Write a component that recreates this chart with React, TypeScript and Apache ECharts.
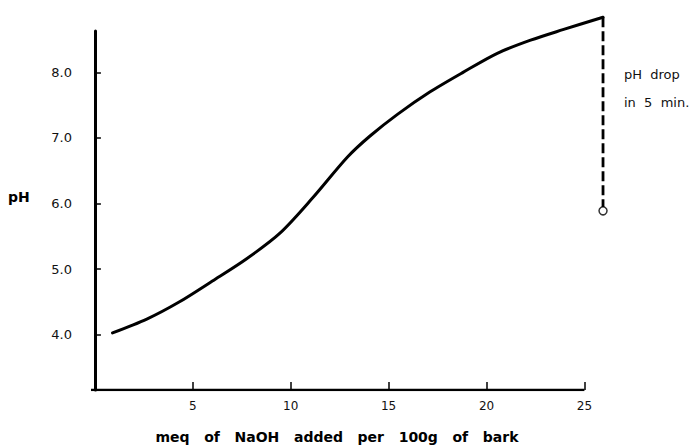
import React, { useEffect, useRef } from "react";
import * as echarts from "echarts";

const curveX = [0.9, 2.65, 4.3, 6.0, 7.75, 9.45, 11.1, 12.9, 14.05, 15.45, 17.1, 18.8, 20.55, 22.25, 23.9, 25.95];
const curvePH = [4.03, 4.24, 4.5, 4.82, 5.16, 5.55, 6.08, 6.71, 7.03, 7.36, 7.7, 8.0, 8.29, 8.49, 8.65, 8.84];
const dropX = [25.95, 25.95];
const dropPH = [8.84, 5.95];
const dropEnd = [25.95, 5.89];
const xTicks = [5, 10, 15, 20, 25];
const yTicks = [4, 5, 6, 7, 8];
const xRange = [-0.2, 25];
const yMin = 3.16;
const xName = "meq   of   NaOH   added   per   100g   of   bark";
const yName = "pH";
const note1 = "pH  drop";
const note2 = "in  5  min.";

export default function App() {
  const ref = useRef<HTMLDivElement>(null);
  useEffect(() => {
    if (!ref.current) return;
    const chart = echarts.init(ref.current, null, { renderer: "svg" });
    const font = "'DejaVu Sans', sans-serif";
    chart.setOption({
      animation: false,
      backgroundColor: "#fff",
      grid: { left: 91, right: 87, top: 31, bottom: 57 },
      xAxis: {
        type: "value",
        min: -0.2,
        max: 26,
        splitLine: { show: false },
        axisLine: { show: false },
        axisTick: { show: true, inside: true, length: 8, customValues: xTicks, lineStyle: { color: "#000", width: 1.5 } },
        axisLabel: { customValues: xTicks, color: "#111", fontFamily: font, fontSize: 12, margin: 10 },
      },
      yAxis: {
        type: "value",
        min: yMin,
        max: 8.63,
        splitLine: { show: false },
        axisLine: { show: true, lineStyle: { color: "#000", width: 3 } },
        axisTick: { show: true, inside: true, length: 6, customValues: yTicks, lineStyle: { color: "#000", width: 1.5 } },
        axisLabel: {
          customValues: yTicks,
          color: "#111",
          fontFamily: font,
          fontSize: 13,
          margin: 19,
          formatter: (v: number) => v.toFixed(1),
        },
      },
      graphic: [
        { type: "text", left: 8, top: 190, style: { text: yName, font: `bold 14px ${font}`, fill: "#000" } },
        { type: "text", x: 337, y: 437, style: { text: xName, font: `bold 14px ${font}`, fill: "#000", align: "center", verticalAlign: "middle" } },
        { type: "text", x: 624, y: 74, style: { text: note1, font: `13px ${font}`, fill: "#111", verticalAlign: "middle" } },
        { type: "text", x: 624, y: 102, style: { text: note2, font: `13px ${font}`, fill: "#111", verticalAlign: "middle" } },
      ],
      series: [
        {
          type: "line",
          data: xRange.map((x) => [x, yMin]),
          showSymbol: false,
          silent: true,
          lineStyle: { color: "#000", width: 2.5 },
        },
        {
          type: "line",
          data: curveX.map((x, i) => [x, curvePH[i]]),
          smooth: 0.3,
          showSymbol: false,
          clip: false,
          lineStyle: { color: "#000", width: 3, cap: "round" },
        },
        {
          type: "line",
          data: dropX.map((x, i) => [x, dropPH[i]]),
          showSymbol: false,
          clip: false,
          lineStyle: { color: "#000", width: 2.8, type: [10, 4] },
        },
        {
          type: "scatter",
          data: [dropEnd],
          symbol: "circle",
          symbolSize: 8,
          clip: false,
          itemStyle: { color: "#fff", borderColor: "#000", borderWidth: 1.5 },
        },
      ],
    });
    return () => chart.dispose();
  }, []);
  return <div ref={ref} style={{ width: 691, height: 447, position: "absolute", left: 0, top: 0 }} />;
}
